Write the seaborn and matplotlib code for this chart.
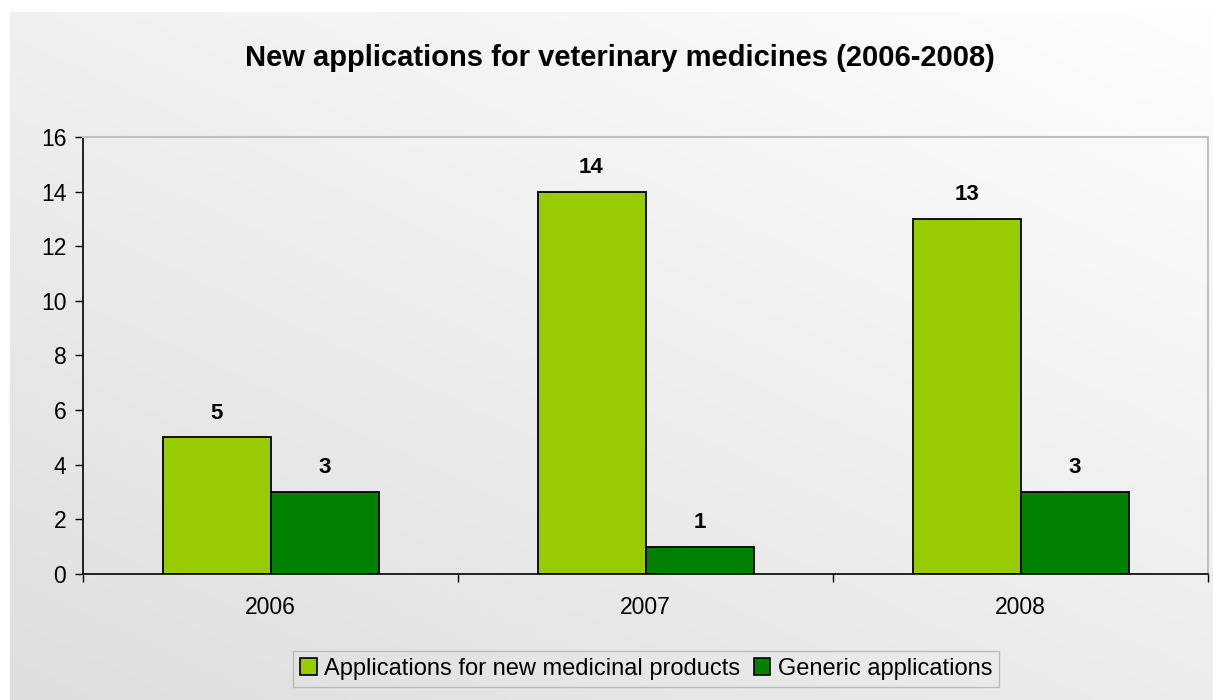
import matplotlib

matplotlib.use("Agg")
import numpy as np
import pandas as pd
import seaborn as sns
import matplotlib.pyplot as plt

# data
years = ["2006", "2007", "2008"]
new_products = [5, 14, 13]
generic = [3, 1, 3]
series_names = ["Applications for new medicinal products", "Generic applications"]
colors = ["#99CC00", "#008000"]

df = pd.DataFrame({
    "year": years * 2,
    "value": new_products + generic,
    "series": [series_names[0]] * 3 + [series_names[1]] * 3,
})

sns.set_style("white")
plt.rcParams["font.family"] = ["Liberation Sans", "DejaVu Sans"]
plt.rcParams["text.color"] = "black"
plt.rcParams["xtick.color"] = "black"
plt.rcParams["ytick.color"] = "black"

fig = plt.figure(figsize=(12.13, 7.0), dpi=100)

# gradient panel behind everything
bg = fig.add_axes([10 / 1213, 0, 1 - 10 / 1213, 1 - 12 / 700], zorder=-5)
xx, yy = np.meshgrid(np.linspace(0, 1, 200), np.linspace(0, 1, 200))
grad = (xx * 0.45 + yy * 0.55)
bg.imshow(grad, cmap=matplotlib.colors.LinearSegmentedColormap.from_list(
    "bgg", ["#dedede", "#fefefe"]), origin="lower", aspect="auto", extent=[0, 1, 0, 1])
bg.axis("off")

ax = fig.add_axes([83 / 1213, 1 - 574 / 700, (1208 - 83) / 1213, (574 - 137) / 700])
ax.patch.set_alpha(0)

sns.barplot(data=df, x="year", y="value", hue="series", palette=colors,
            width=0.576, edgecolor="black", linewidth=1.3, saturation=1, ax=ax)

for cont in ax.containers:
    ax.bar_label(cont, fmt="%d", padding=10, fontsize=16, fontweight="bold")

ax.set_ylim(0, 16)
ax.set_xlim(-0.5, 2.5)
ax.set_yticks(range(0, 17, 2))
ax.set_xlabel("")
ax.set_ylabel("")
ax.tick_params(axis="y", length=6, width=1, labelsize=16.5, pad=6, direction="out", left=True)
ax.tick_params(axis="x", which="major", length=0, labelsize=16.5, pad=16)
ax.set_xticks([-0.5, 0.5, 1.5, 2.5], minor=True)
ax.tick_params(axis="x", which="minor", length=6, width=1, direction="out", bottom=True)

for side in ["left", "bottom"]:
    ax.spines[side].set_color("black")
    ax.spines[side].set_linewidth(1.2)
for side in ["top", "right"]:
    ax.spines[side].set_color("#c0c0c0")
    ax.spines[side].set_linewidth(1.5)
    ax.spines[side].set_visible(True)

fig.text(620 / 1213, 1 - 58 / 700, "New applications for veterinary medicines (2006-2008)",
         ha="center", va="center", fontsize=21, fontweight="bold")

ax.legend_.remove()
handles = [matplotlib.patches.Patch(facecolor=c, edgecolor="black", linewidth=1.2) for c in colors]
leg = fig.legend(handles, series_names, loc="center", bbox_to_anchor=(646 / 1213, 1 - 669 / 700),
                 ncol=2, fontsize=17, frameon=True, fancybox=False, handlelength=0.7,
                 handleheight=0.7, handletextpad=0.3, columnspacing=0.6, borderpad=0.3)
leg.get_frame().set_edgecolor("#b0b0b0")
leg.get_frame().set_facecolor("none")
leg.get_frame().set_linewidth(1)

fig.savefig("out.png", dpi=100, facecolor="white")
